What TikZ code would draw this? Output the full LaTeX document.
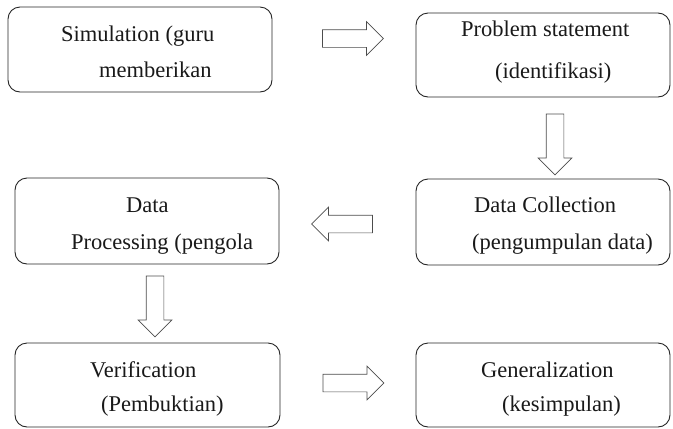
\documentclass[tikz,border=0pt]{standalone}
\usepackage{fontspec}
\setmainfont{Liberation Serif}
\usetikzlibrary{shapes.arrows}

\begin{document}
\begin{tikzpicture}[x=1pt, y=-1pt]
\tikzstyle{every node} = [font = \fontsize{22.5}{27}\selectfont]
\tikzstyle{stepbox} = [draw=black!85, rounded corners=12pt, line width=0.9pt, inner sep=0pt]
\tikzstyle{steptext} = [anchor=base west, inner sep=0pt, text=black!90]
\tikzstyle{blockarrow} = [single arrow, draw=black!70, line width=0.7pt, inner sep=0pt,
  text height=17pt, text depth=0pt, single arrow head extend=8pt, minimum height=61pt]
\useasboundingbox (0,0) rectangle (673,429);

% the six boxes
\node [stepbox, minimum width=264pt, minimum height=85pt] (sim) at (140,49.5) {};
\node [stepbox, minimum width=254pt, minimum height=84pt] (prob) at (543,55) {};
\node [stepbox, minimum width=254pt, minimum height=86pt] (coll) at (543,222) {};
\node [stepbox, minimum width=264pt, minimum height=86pt] (proc) at (147,221) {};
\node [stepbox, minimum width=265pt, minimum height=84pt] (veri) at (147.5,385) {};
\node [stepbox, minimum width=254pt, minimum height=84pt] (gen) at (543,385) {};

% texts
\node [steptext] (simA) at (61,41) {Simulation (guru};
\node [steptext] (simB) at (99,77) {memberikan};
\node [steptext] (probA) at (461,36) {Problem statement};
\node [steptext] (probB) at (495,78) {(identifikasi)};
\node [steptext] (collA) at (474,212) {Data Collection};
\node [steptext] (collB) at (472,249) {(pengumpulan data)};
\node [steptext] (procA) at (126,212) {Data};
\node [steptext] (procB) at (71,249) {Processing (pengola};
\node [steptext] (veriA) at (90,377) {Verification};
\node [steptext] (veriB) at (101,411) {(Pembuktian)};
\node [steptext] (genA) at (481,377) {Generalization};
\node [steptext] (genB) at (502,411) {(kesimpulan)};

% block arrows
\node [blockarrow] (a1) at (348.5,38.5) {};
\node [blockarrow, rotate=-90] (a2) at (555,140) {};
\node [blockarrow, rotate=180] (a3) at (346.5,224) {};
\node [blockarrow, rotate=-90] (a4) at (155,302) {};
\node [blockarrow] (a5) at (349,383) {};
\end{tikzpicture}
\end{document}
